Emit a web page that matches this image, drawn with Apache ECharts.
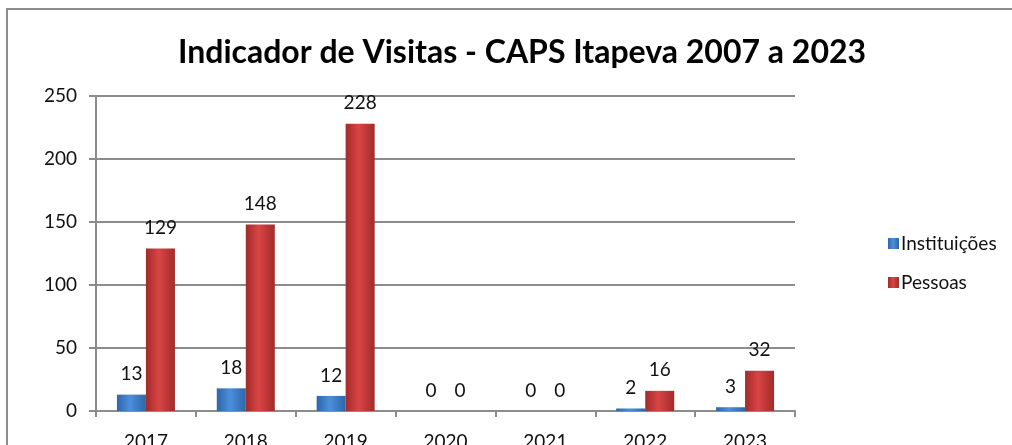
<!DOCTYPE html>
<html lang="pt">
<head>
    <meta charset="UTF-8">
    <title>Indicador de Visitas</title>
    <style>
        html, body {
            margin: 0;
            padding: 0;
            background: #fff;
        }
        #chart {
            width: 1012px;
            height: 445px;
        }
    </style>
    <script src="https://cdn.jsdelivr.net/npm/echarts@6/dist/echarts.min.js"></script>
</head>
<body>
    <div id="chart"></div>
    <script>
        const years = ['2017', '2018', '2019', '2020', '2021', '2022', '2023'];
        const instituicoes = [13, 18, 12, 0, 0, 2, 3];
        const pessoas = [129, 148, 228, 0, 0, 16, 32];
        const yTicks = [0, 50, 100, 150, 200, 250];

        const font = 'Lato, "Open Sans", sans-serif';

        // gradiente horizontal, estilo "cilindro" do Excel
        function barFill(edge, mid) {
            return new echarts.graphic.LinearGradient(0, 0, 1, 0, [
                { offset: 0, color: edge },
                { offset: 0.45, color: mid },
                { offset: 1, color: edge }
            ]);
        }

        const labelStyle = {
            show: true,
            position: 'top',
            distance: 11,
            fontFamily: font,
            fontSize: 19,
            color: '#111'
        };

        const chart = echarts.init(document.getElementById('chart'));
        chart.setOption({
            animation: false,
            graphic: [{
                type: 'rect',
                shape: { x: 7, y: 9, width: 1020, height: 460 },
                style: { fill: 'none', stroke: '#8c8c8c', lineWidth: 2 }
            }],
            title: {
                text: 'Indicador de Visitas - CAPS Itapeva 2007 a 2023',
                left: 517,
                top: 32,
                textAlign: 'center',
                textStyle: {
                    fontFamily: font,
                    fontWeight: 'bold',
                    fontSize: 32,
                    color: '#000'
                }
            },
            legend: {
                orient: 'vertical',
                left: 883,
                top: 229,
                itemWidth: 11,
                itemHeight: 11,
                itemGap: 20,
                icon: 'rect',
                textStyle: {
                    fontFamily: font,
                    fontSize: 19,
                    color: '#111',
                    padding: [0, 0, 0, -3]
                },
                data: ['Instituições', 'Pessoas']
            },
            grid: {
                left: 96,
                right: 217,
                top: 96,
                bottom: 34,
                containLabel: false,
                outerBoundsMode: 'none'
            },
            xAxis: {
                type: 'category',
                data: years,
                axisLine: { lineStyle: { color: '#8c8c8c', width: 2 } },
                axisTick: { show: true, length: 6, lineStyle: { color: '#8c8c8c', width: 2 } },
                axisLabel: {
                    margin: 21,
                    fontFamily: font,
                    fontSize: 19,
                    color: '#111'
                }
            },
            yAxis: {
                type: 'value',
                min: yTicks[0],
                max: yTicks[yTicks.length - 1],
                interval: 50,
                axisLine: { show: true, lineStyle: { color: '#8c8c8c', width: 2 } },
                axisTick: { show: true, length: 7, lineStyle: { color: '#8c8c8c', width: 2 } },
                splitLine: { lineStyle: { color: '#8c8c8c', width: 2 } },
                axisLabel: {
                    margin: 19,
                    fontFamily: font,
                    fontSize: 19,
                    color: '#111'
                }
            },
            series: [
                {
                    name: 'Instituições',
                    type: 'bar',
                    data: instituicoes,
                    barWidth: 29,
                    barGap: '0%',
                    itemStyle: { color: barFill('#2e66a8', '#4b8fdc') },
                    label: labelStyle
                },
                {
                    name: 'Pessoas',
                    type: 'bar',
                    data: pessoas,
                    barWidth: 29,
                    itemStyle: { color: barFill('#a12b29', '#d94545') },
                    label: labelStyle
                }
            ]
        });
    </script>
</body>
</html>
